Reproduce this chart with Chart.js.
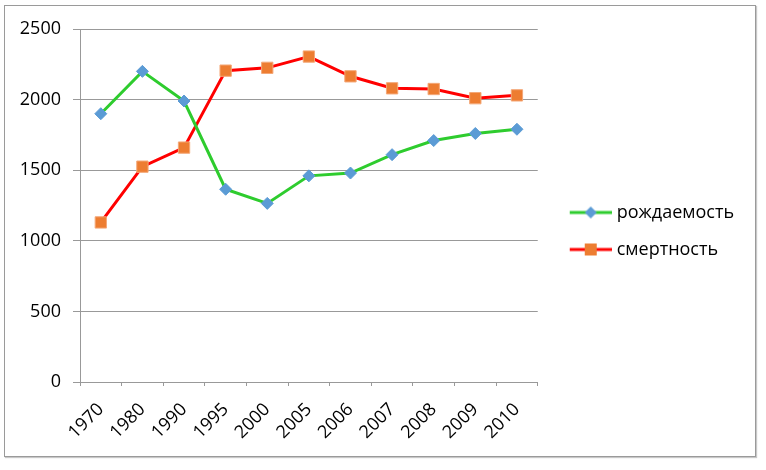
<!DOCTYPE html>
<html>
<head>
<meta charset="utf-8">
<script src="https://cdn.jsdelivr.net/npm/chart.js@4/dist/chart.umd.min.js"></script>
<style>
    body { margin: 0; background: #fff; }
    #frame {
        position: absolute;
        left: 4px;
        top: 5px;
        width: 752px;
        height: 452px;
        border: 1px solid #9a9a9a;
        box-sizing: border-box;
        box-shadow: 1px 1px 1px #c8c8c8;
    }
</style>
</head>
<body>
<div id="frame"><canvas id="populationChart" width="750" height="450"></canvas></div>
<script>
// Data
const years = ['1970', '1980', '1990', '1995', '2000', '2005', '2006', '2007', '2008', '2009', '2010'];
const birthRate = [1900, 2200, 1990, 1365, 1265, 1460, 1480, 1610, 1710, 1760, 1790];
const deathRate = [1130, 1525, 1660, 2205, 2225, 2305, 2165, 2080, 2075, 2010, 2030];
const yMin = 0;
const yMax = 2500;
const yStep = 500;

const birthLine = '#2ecc2e';
const birthMarker = '#5b9bd5';
const deathLine = '#ff0000';
const deathMarker = '#ed7d31';
const gridColor = '#999999';
const fontFamily = '"Open Sans", "Liberation Sans", sans-serif';

// legend symbol: short line with the marker on it
function legendSymbol(lineColor, markerColor, shape) {
    const c = document.createElement('canvas');
    c.width = 59;
    c.height = 20;
    const g = c.getContext('2d');
    g.strokeStyle = lineColor;
    g.lineWidth = 3;
    g.beginPath();
    g.moveTo(17, 10);
    g.lineTo(59, 10);
    g.stroke();
    g.fillStyle = markerColor;
    g.beginPath();
    if (shape === 'diamond') {
        g.moveTo(38, 4);
        g.lineTo(44, 10);
        g.lineTo(38, 16);
        g.lineTo(32, 10);
        g.closePath();
    } else {
        g.rect(32, 4, 12, 12);
    }
    g.fill();
    return c;
}

const legendIcons = [
    legendSymbol(birthLine, birthMarker, 'diamond'),
    legendSymbol(deathLine, deathMarker, 'square')
];

new Chart(document.getElementById('populationChart').getContext('2d'), {
    type: 'line',
    data: {
        labels: years,
        datasets: [
            {
                label: 'рождаемость',
                data: birthRate,
                borderColor: birthLine,
                borderWidth: 3,
                tension: 0,
                pointStyle: 'rectRot',
                pointRadius: 6,
                pointBackgroundColor: birthMarker,
                pointBorderColor: birthMarker,
                pointBorderWidth: 1
            },
            {
                label: 'смертность',
                data: deathRate,
                borderColor: deathLine,
                borderWidth: 3,
                tension: 0,
                pointStyle: 'rect',
                pointRadius: 8,
                pointBackgroundColor: deathMarker,
                pointBorderColor: '#f4a878',
                pointBorderWidth: 1
            }
        ]
    },
    options: {
        responsive: false,
        animation: false,
        layout: {
            padding: { top: 0, right: 11, bottom: 0, left: 0 }
        },
        plugins: {
            tooltip: { enabled: false },
            // empty spacer above the plot only, so the legend stays centred on the whole frame
            title: {
                display: true,
                text: '',
                fullSize: false,
                padding: 0,
                font: { size: 23, lineHeight: 1 }
            },
            legend: {
                position: 'right',
                align: 'center',
                maxWidth: 400,
                labels: {
                    usePointStyle: true,
                    pointStyleWidth: 51,
                    padding: 19,
                    color: '#000',
                    font: { family: fontFamily, size: 18 },
                    generateLabels: function(chart) {
                        const items = Chart.defaults.plugins.legend.labels.generateLabels(chart);
                        items.forEach((item, i) => {
                            item.pointStyle = legendIcons[i];
                        });
                        return items;
                    }
                }
            }
        },
        scales: {
            x: {
                offset: true,
                afterFit: function(scale) { scale.height = 74; },
                grid: {
                    offset: true,
                    drawOnChartArea: false,
                    drawTicks: true,
                    tickLength: 4,
                    color: gridColor
                },
                border: { display: true, color: gridColor },
                ticks: {
                    autoSkip: false,
                    minRotation: 45,
                    maxRotation: 45,
                    padding: 13,
                    color: '#000',
                    font: { family: fontFamily, size: 18 }
                }
            },
            y: {
                min: yMin,
                max: yMax,
                afterFit: function(scale) { scale.width = 75; },
                grid: {
                    color: gridColor,
                    drawTicks: true,
                    tickLength: 7
                },
                border: { display: true, color: gridColor },
                ticks: {
                    stepSize: yStep,
                    padding: 12,
                    color: '#000',
                    font: { family: fontFamily, size: 18 },
                    callback: value => String(value)
                }
            }
        }
    }
});
</script>
</body>
</html>
